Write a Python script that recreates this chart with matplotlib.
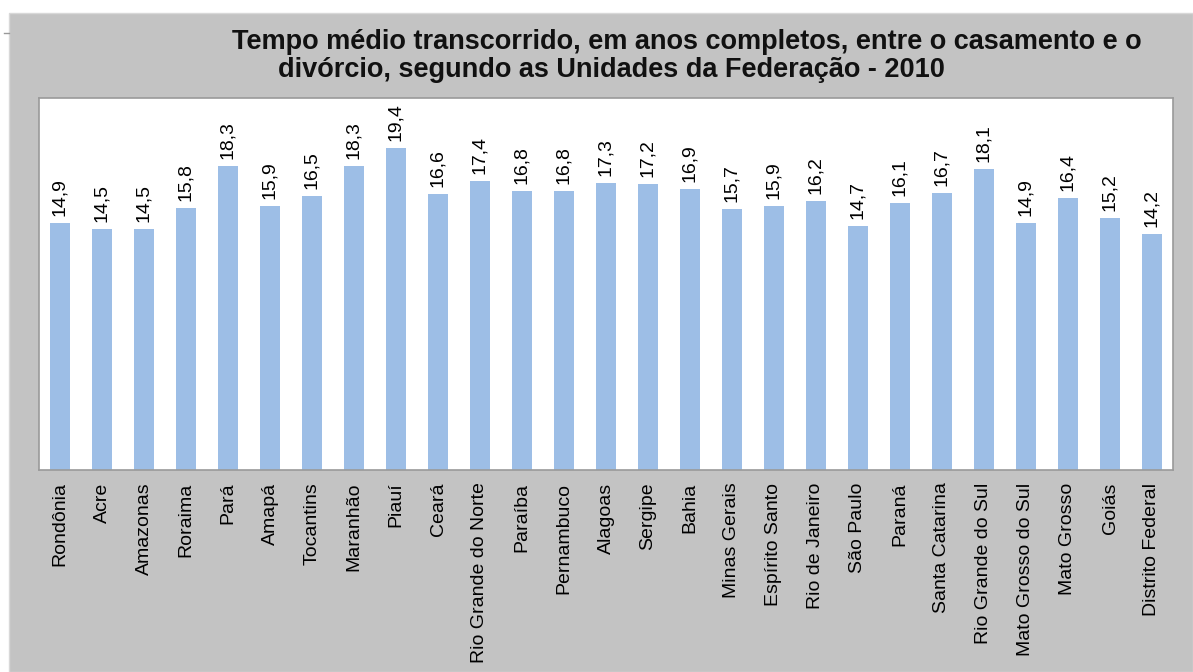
import matplotlib.pyplot as plt
from matplotlib.patches import Rectangle

plt.rcParams['font.family'] = ['Liberation Sans', 'DejaVu Sans']

estados = ['Rondônia', 'Acre', 'Amazonas', 'Roraima', 'Pará', 'Amapá', 'Tocantins',
           'Maranhão', 'Piauí', 'Ceará', 'Rio Grande do Norte', 'Paraíba', 'Pernambuco',
           'Alagoas', 'Sergipe', 'Bahia', 'Minas Gerais', 'Espírito Santo',
           'Rio de Janeiro', 'São Paulo', 'Paraná', 'Santa Catarina',
           'Rio Grande do Sul', 'Mato Grosso do Sul', 'Mato Grosso', 'Goiás',
           'Distrito Federal']
anos = [14.9, 14.5, 14.5, 15.8, 18.3, 15.9, 16.5, 18.3, 19.4, 16.6, 17.4, 16.8, 16.8,
        17.3, 17.2, 16.9, 15.7, 15.9, 16.2, 14.7, 16.1, 16.7, 18.1, 14.9, 16.4, 15.2,
        14.2]

fig = plt.figure(figsize=(11.93, 6.72), dpi=100)
fig.patch.set_facecolor('white')
# grey chart area
fig.patches.append(Rectangle((9 / 1193, 0), 1 - 9 / 1193, 1 - 13 / 672,
                             transform=fig.transFigure, facecolor='#c3c3c3',
                             edgecolor='#d8d8d8', lw=1, zorder=-10))
fig.add_artist(plt.Line2D([4 / 1193, 9 / 1193], [1 - 33 / 672, 1 - 33 / 672],
                          transform=fig.transFigure, color='#999999', lw=1))

ax = fig.add_axes([39 / 1193, 202 / 672, (1173 - 39) / 1193, (470 - 98) / 672])
ax.set_facecolor('white')
x = range(len(estados))
bars = ax.bar(x, anos, width=0.48, color='#9dbee6')
ax.set_xlim(-0.5, len(estados) - 0.5)
ax.set_ylim(0, 22.4)

for xi, v in zip(x, anos):
    ax.annotate(f'{v:.1f}'.replace('.', ','), (xi, v), xytext=(0, 5),
                textcoords='offset points', rotation=90, ha='center', va='bottom',
                fontsize=14, color='black')

ax.set_xticks(list(x))
ax.set_xticklabels(estados, rotation=90, fontsize=14, va='top', ha='center',
                   color='black')
ax.tick_params(axis='x', length=0, pad=9)
ax.set_yticks([])
for s in ax.spines.values():
    s.set_color('#9a9a9a')
    s.set_linewidth(1.2)

fig.text(232 / 1193, 1 - 42 / 672,
         'Tempo médio transcorrido, em anos completos, entre o casamento e o',
         fontsize=19.5, fontweight='bold', ha='left', va='center', color='#111111')
fig.text(278 / 1193, 1 - 70 / 672,
         'divórcio, segundo as Unidades da Federação - 2010',
         fontsize=19.5, fontweight='bold', ha='left', va='center', color='#111111')

fig.savefig('out.png', dpi=100, facecolor=fig.get_facecolor())
